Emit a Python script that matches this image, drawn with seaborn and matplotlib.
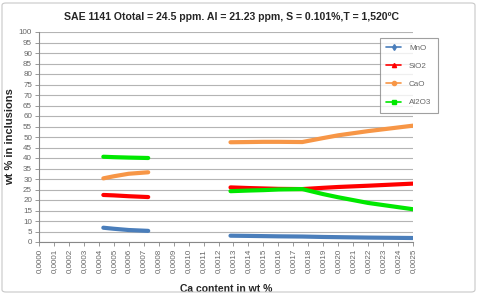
import numpy as np
import pandas as pd
import matplotlib
matplotlib.use("Agg")
import matplotlib.pyplot as plt
from matplotlib.lines import Line2D
from matplotlib.patches import FancyBboxPatch
import seaborn as sns

# ---- data ----
oxides = ["MnO", "SiO2", "CaO", "Al2O3"]
colors = ["#4A7EBB", "#FF0000", "#F79646", "#00E800"]
legend_markers = ["d", "^", "o", "s"]

ca_seg1 = [0.00043, 0.00050, 0.00060, 0.00073]
ca_seg2 = [0.00128, 0.00140, 0.00150, 0.00160, 0.00176, 0.00190, 0.00200, 0.00220, 0.00250]

mno_seg1 = [6.8, 6.3, 5.7, 5.3]
sio2_seg1 = [22.4, 22.2, 21.8, 21.4]
cao_seg1 = [30.3, 31.3, 32.5, 33.2]
al2o3_seg1 = [40.6, 40.4, 40.2, 40.0]

mno_seg2 = [3.0, 2.9, 2.8, 2.7, 2.6, 2.4, 2.3, 2.1, 1.9]
sio2_seg2 = [26.0, 25.7, 25.5, 25.3, 25.2, 25.8, 26.2, 26.8, 27.8]
cao_seg2 = [47.5, 47.6, 47.7, 47.7, 47.6, 49.5, 50.8, 52.8, 55.4]
al2o3_seg2 = [24.2, 24.5, 24.7, 25.0, 25.2, 22.8, 21.3, 18.6, 15.6]

x_ticks = [i * 0.0001 for i in range(26)]
x_tick_labels = ["0,%04d" % i for i in range(26)]
y_ticks = list(range(0, 101, 5))

title = "SAE 1141 Ototal = 24.5 ppm. Al = 21.23 ppm, S = 0.101%,T = 1,520ºC"

# ---- long table ----
rows = []
seg1 = {"MnO": mno_seg1, "SiO2": sio2_seg1, "CaO": cao_seg1, "Al2O3": al2o3_seg1}
seg2 = {"MnO": mno_seg2, "SiO2": sio2_seg2, "CaO": cao_seg2, "Al2O3": al2o3_seg2}
for ox in oxides:
    for x, v in zip(ca_seg1, seg1[ox]):
        rows.append({"ca": x, "wt": v, "oxide": ox, "seg": 1})
    for x, v in zip(ca_seg2, seg2[ox]):
        rows.append({"ca": x, "wt": v, "oxide": ox, "seg": 2})
df = pd.DataFrame(rows)

sns.set_style("white")
plt.rcParams["font.family"] = ["Liberation Sans", "DejaVu Sans"]

fig = plt.figure(figsize=(4.78, 2.94), dpi=100)
ax = fig.add_axes([39 / 478, 1 - 242 / 294, (413 - 39) / 478, (242 - 32) / 294])

# gridlines
ax.set_yticks(y_ticks)
ax.yaxis.grid(True, color="#B4B4B4", linewidth=0.8)
ax.set_axisbelow(True)

sns.lineplot(data=df, x="ca", y="wt", hue="oxide", units="seg", estimator=None,
             palette=dict(zip(oxides, colors)), hue_order=oxides,
             linewidth=3.0, legend=False, ax=ax, sort=False)
for ln in ax.get_lines():
    ln.set_solid_capstyle("round")

ax.set_xlim(0, 0.0025)
ax.set_ylim(0, 100)
ax.set_xticks(x_ticks)
ax.set_xticklabels(x_tick_labels, rotation=90, fontsize=5.8, color="#666666")
ax.set_yticklabels([str(v) for v in y_ticks], fontsize=5.8, color="#666666")
ax.tick_params(axis="both", direction="out", length=3, width=0.6, color="#888888", pad=2,
               left=True, bottom=True)
for s in ["top", "right"]:
    ax.spines[s].set_visible(False)
for s in ["left", "bottom"]:
    ax.spines[s].set_color("#888888")
    ax.spines[s].set_linewidth(0.8)

ax.set_xlabel("Ca content in wt %", fontsize=7.5, fontweight="bold", labelpad=8)
ax.set_ylabel("wt % in inclusions", fontsize=8, fontweight="bold", labelpad=3)
fig.text(231 / 478, 1 - 17 / 294, title, ha="center", va="center",
         fontsize=7.6, fontweight="bold")

handles = [Line2D([0], [0], color=c, lw=1.2, marker=m, markersize=3)
           for c, m in zip(colors, legend_markers)]
leg = fig.legend(handles, oxides, loc="upper left",
                 bbox_to_anchor=(380 / 478, 1 - 38 / 294), fontsize=5.8,
                 frameon=True, fancybox=False, edgecolor="#888888",
                 labelspacing=1.3, handlelength=1.8, borderpad=0.8,
                 handletextpad=1.0, borderaxespad=0)
for t in leg.get_texts():
    t.set_color("#666666")
leg.get_frame().set_linewidth(0.8)

border = FancyBboxPatch((2 / 478, 2 / 294), 473 / 478, 289 / 294,
                        boxstyle="round,pad=0,rounding_size=0.008",
                        transform=fig.transFigure, fill=False,
                        edgecolor="#C8C8C8", linewidth=0.8)
fig.patches.append(border)

fig.savefig("out.png", dpi=100)
